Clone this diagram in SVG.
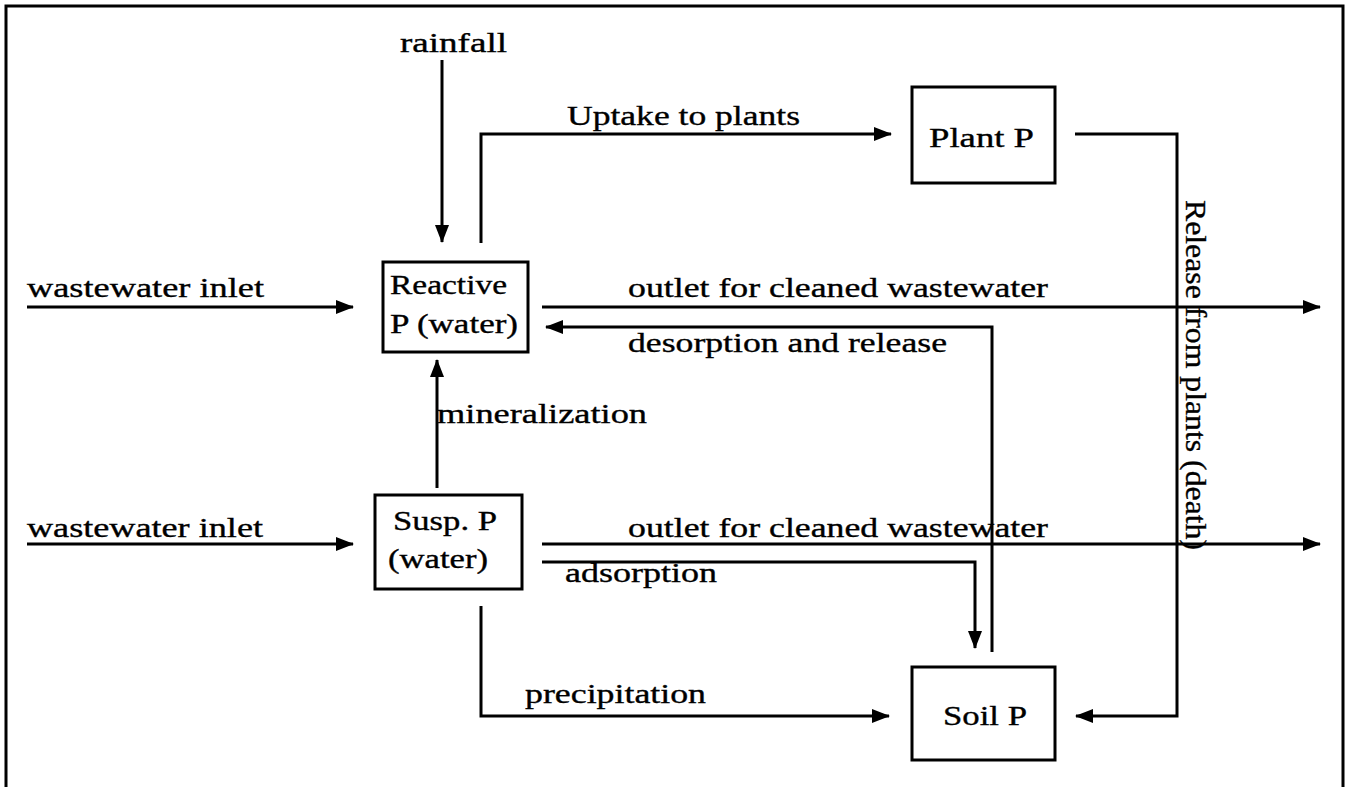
<svg xmlns="http://www.w3.org/2000/svg" width="1351" height="787" viewBox="0 0 1351 787">
  <style>
    .frame { fill: none; stroke: #000; stroke-width: 3; }
    .box { fill: #fff; stroke: #000; stroke-width: 3; }
    .flow { fill: none; stroke: #000; stroke-width: 3; }
    .arrow { stroke: none; fill: #000; }
    text { font-family: "Liberation Serif", "Times New Roman", serif; font-size: 27px; fill: #000; stroke: #000; stroke-width: 0.35px; }
  </style>
  <defs>
    <marker id="head" viewBox="0 0 18 16" refX="17" refY="8" markerWidth="18" markerHeight="16" markerUnits="userSpaceOnUse" orient="auto">
      <path class="arrow" d="M0,1 L18,8 L0,15 z"/>
    </marker>
  </defs>

  <rect width="1351" height="787" fill="#fff"/>

  <!-- outer frame, open at the bottom -->
  <path class="frame" d="M6,787 L6,6 L1343,6 L1343,787"/>

  <!-- nodes -->
  <g id="reactive-p">
    <rect class="box" x="383" y="262" width="145" height="90"/>
    <text x="390" y="294" textLength="117" lengthAdjust="spacingAndGlyphs">Reactive</text>
    <text x="390" y="333" textLength="128" lengthAdjust="spacingAndGlyphs">P (water)</text>
  </g>
  <g id="susp-p">
    <rect class="box" x="375" y="495" width="147" height="94"/>
    <text x="393" y="530" textLength="104" lengthAdjust="spacingAndGlyphs">Susp. P</text>
    <text x="388" y="568" textLength="100" lengthAdjust="spacingAndGlyphs">(water)</text>
  </g>
  <g id="plant-p">
    <rect class="box" x="912" y="87" width="143" height="96"/>
    <text x="929" y="147" textLength="105" lengthAdjust="spacingAndGlyphs">Plant P</text>
  </g>
  <g id="soil-p">
    <rect class="box" x="912" y="667" width="143" height="93"/>
    <text x="943" y="725" textLength="84" lengthAdjust="spacingAndGlyphs">Soil P</text>
  </g>

  <!-- connectors -->
  <g id="connectors">
    <!-- rainfall into reactive P -->
    <path class="flow" d="M442,60 L442,242" marker-end="url(#head)"/>
    <!-- uptake to plants -->
    <path class="flow" d="M481,243 L481,134 L891,134" marker-end="url(#head)"/>
    <!-- release from plants to soil -->
    <path class="flow" d="M1075,134 L1177,134 L1177,716 L1076,716" marker-end="url(#head)"/>
    <!-- wastewater inlets -->
    <path class="flow" d="M27,307 L353,307" marker-end="url(#head)"/>
    <path class="flow" d="M27,544 L353,544" marker-end="url(#head)"/>
    <!-- outlets -->
    <path class="flow" d="M542,307 L1320,307" marker-end="url(#head)"/>
    <path class="flow" d="M542,544 L1320,544" marker-end="url(#head)"/>
    <!-- desorption and release -->
    <path class="flow" d="M992,652 L992,327 L546,327" marker-end="url(#head)"/>
    <!-- mineralization -->
    <path class="flow" d="M437,488 L437,360" marker-end="url(#head)"/>
    <!-- adsorption -->
    <path class="flow" d="M542,562 L975,562 L975,648" marker-end="url(#head)"/>
    <!-- precipitation -->
    <path class="flow" d="M481,606 L481,716 L889,716" marker-end="url(#head)"/>
  </g>

  <!-- flow labels -->
  <g id="labels">
    <text x="400" y="52" textLength="107" lengthAdjust="spacingAndGlyphs">rainfall</text>
    <text x="567" y="125" textLength="233" lengthAdjust="spacingAndGlyphs">Uptake to plants</text>
    <text x="27" y="297" textLength="237" lengthAdjust="spacingAndGlyphs">wastewater inlet</text>
    <text x="628" y="297" textLength="420" lengthAdjust="spacingAndGlyphs">outlet for cleaned wastewater</text>
    <text x="628" y="352" textLength="319" lengthAdjust="spacingAndGlyphs">desorption and release</text>
    <text x="437" y="423" textLength="210" lengthAdjust="spacingAndGlyphs">mineralization</text>
    <text x="27" y="537" textLength="236" lengthAdjust="spacingAndGlyphs">wastewater inlet</text>
    <text x="628" y="537" textLength="420" lengthAdjust="spacingAndGlyphs">outlet for cleaned wastewater</text>
    <text x="565" y="582" textLength="152" lengthAdjust="spacingAndGlyphs">adsorption</text>
    <text x="525" y="703" textLength="181" lengthAdjust="spacingAndGlyphs">precipitation</text>
    <text transform="translate(1186,200) rotate(90)" x="0" y="0" textLength="350" lengthAdjust="spacingAndGlyphs" style="font-size:30px">Release from plants (death)</text>
  </g>
</svg>
